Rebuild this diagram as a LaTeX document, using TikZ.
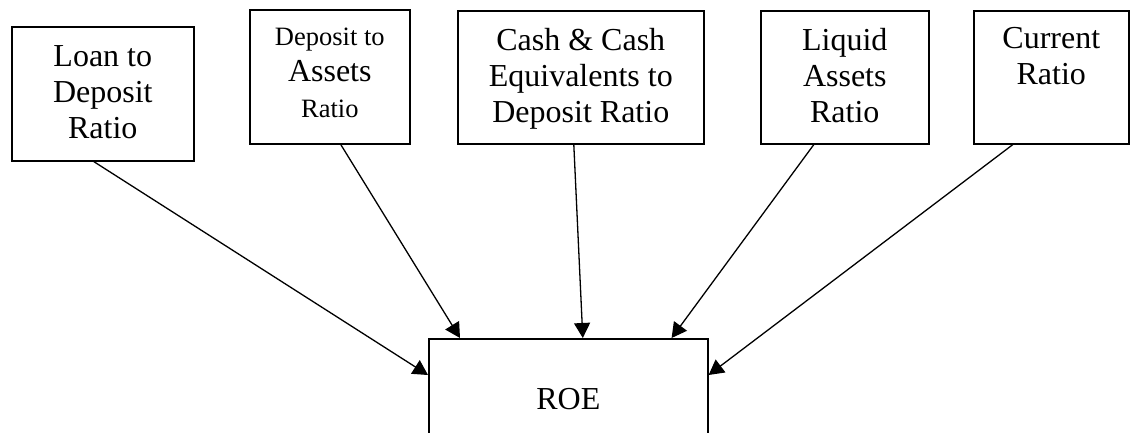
\documentclass[tikz,border=0pt]{standalone}
\usepackage{fontspec}
\setmainfont{Liberation Serif}
\usetikzlibrary{arrows.meta}

\begin{document}
\begin{tikzpicture}[x=1pt, y=-1pt,
    box/.style={draw, line width=1.6pt, inner sep=0pt, anchor=north west,
      font=\fontsize{32}{36}\selectfont},
    small/.style={font=\fontsize{26.5}{30}\selectfont},
    link/.style={-{Triangle[length=15pt,width=16pt]}, line width=1.3pt}]
  \useasboundingbox (0,0) rectangle (1131,433);
  \clip (0,0) rectangle (1131,433);
  % ratio boxes
  \node[box] (loan) at (11,26)
    {\parbox[c][134pt][t]{182pt}{\centering\vspace*{19pt}Loan to\\Deposit\\Ratio}};
  \node[box] (dta) at (249,9)
    {\parbox[c][134pt][t]{160pt}{\centering\vspace*{18pt}%
      {\fontsize{26.5}{30}\selectfont Deposit to}\\Assets\\{\fontsize{26.5}{30}\selectfont Ratio}}};
  \node[box] (cash) at (457,10)
    {\parbox[c][133pt][t]{246pt}{\centering\vspace*{17pt}Cash \& Cash\\Equivalents to\\Deposit Ratio}};
  \node[box] (liquid) at (760,10)
    {\parbox[c][133pt][t]{168pt}{\centering\vspace*{17pt}Liquid\\Assets\\Ratio}};
  \node[box] (current) at (973,10)
    {\parbox[c][133pt][t]{155pt}{\centering\vspace*{17pt}Current\\Ratio}};
  % target
  \node[box] (roe) at (428,338)
    {\parbox[c][140pt][t]{279pt}{\centering\vspace*{50pt}ROE}};
  % links
  \draw[link] ([xshift=-9pt]loan.south) -- ([yshift=-37pt]roe.north west);
  \draw[link] ([xshift=11pt]dta.south) -- ([xshift=32pt]roe.north west);
  \draw[link] ([xshift=-7pt]cash.south) -- ([xshift=14.5pt]roe.north);
  \draw[link] ([xshift=-31pt]liquid.south) -- ([xshift=-37pt]roe.north east);
  \draw[link] ([xshift=-38.5pt]current.south) -- ([yshift=-37pt]roe.north east);
\end{tikzpicture}
\end{document}
